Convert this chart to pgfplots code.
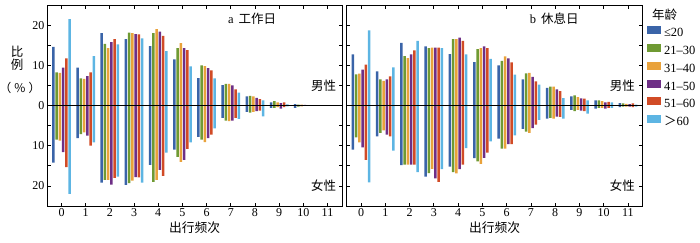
\documentclass[border=0pt]{standalone}
\usepackage{pgfplots}
\pgfplotsset{compat=1.18}
\usepackage{pgfplotstable}
\usepackage{fontspec}
\setmainfont{Liberation Serif}
\newfontfamily\cjk{Noto Sans CJK SC}

\definecolor{c1}{HTML}{3A64A8}
\definecolor{c2}{HTML}{6F9A33}
\definecolor{c3}{HTML}{E9A23B}
\definecolor{c4}{HTML}{6E2F86}
\definecolor{c5}{HTML}{D14B26}
\definecolor{c6}{HTML}{5DB5E3}

% panel a: work day (male m1..m6, female f1..f6 stored negative)
\pgfplotstableread{
x  m1    m2    m3    m4    m5    m6    f1     f2     f3     f4     f5     f6
0  14.6  8.25  8.1   9.4   11.7  21.5  -14.2  -8.5   -8.75  -11.6  -15.3  -22.0
1  9.4   6.75  6.6   7.3   8.25  12.3  -8.1   -7.1   -6.7   -7.5   -10.0  -9.2
2  18.0  15.3  14.3  15.75 16.5  15.2  -19.2  -18.5  -18.5  -19.7  -18.0  -17.7
3  16.5  18.1  18.0  17.75 17.7  16.7  -19.75 -19.3  -18.7  -17.8  -17.9  -19.2
4  14.8  18.0  19.0  18.4  17.3  13.5  -14.75 -19.0  -18.5  -16.0  -17.5  -11.7
5  11.5  14.3  15.5  14.3  13.75 9.75  -11.0  -12.8  -14.0  -13.5  -10.8  -9.2
6  6.8   10.0  9.8   9.3   8.75  6.75  -7.8   -8.5   -9.1   -8.1   -7.25  -5.7
7  5.1   5.4   5.4   5.0   4.0   3.2   -3.1   -3.75  -3.9   -3.75  -3.1   -3.3
8  2.25  2.4   2.25  1.9   1.6   1.25  -1.6   -1.75  -1.6   -1.4   -1.25  -2.7
9  0.75  1.1   0.75  0.6   0.75  0.3   -0.6   -0.6   -0.4   -0.75  -0.4   -0.2
10 0.35  0.2   0.2   0.15  0.1   0.1   -0.6   -0.3   -0.2   -0.1   -0.1   -0.1
11 0     0     0     0     0     0     0      0      0      0      0      0
}\worktab

% panel b: rest day
\pgfplotstableread{
x  m1    m2    m3    m4    m5    m6    f1     f2     f3     f4     f5     f6
0  12.7  7.75  7.9   8.9   10.2  18.7  -11.0  -7.9   -9.2   -10.4  -13.5  -19.1
1  8.5   6.5   6.1   6.5   7.25  9.5   -7.7   -6.8   -6.2   -7.25  -7.7   -11.2
2  15.6  12.3  11.8  12.7  13.7  16.1  -14.8  -14.7  -14.7  -14.7  -14.7  -16.6
3  14.7  14.25 14.4  14.4  14.4  14.25 -17.7  -16.8  -15.75 -18.1  -19.0  -15.8
4  12.8  16.5  16.5  16.9  16.1  12.7  -15.2  -16.6  -16.9  -15.8  -14.7  -10.6
5  10.8  14.0  14.3  14.7  14.3  11.6  -13.1  -13.9  -14.5  -13.0  -11.7  -8.9
6  10.0  11.1  12.2  11.75 10.75 7.7   -8.25  -10.75 -10.75 -9.6   -9.6   -7.4
7  6.5   8.0   8.1   7.1   6.0   5.2   -5.8   -6.5   -6.8   -5.6   -4.75  -3.6
8  4.4   4.7   4.7   4.0   3.6   1.85  -3.25  -3.1   -3.25  -2.75  -2.85  -3.25
9  2.25  2.5   2.1   1.75  1.7   1.25  -1.1   -1.4   -1.1   -1.25  -1.4   -2.0
10 1.25  1.25  1.1   0.75  0.9   0.75  -0.8   -0.6   -0.6   -0.8   -0.6   -0.6
11 0.6   0.5   0.4   0.35  0.5   0.25  -0.4   -0.3   -0.25  -0.25  -0.4   -0.25
}\resttab

\pgfplotsset{
  panel/.style={
    scale only axis, width=295pt, height=201pt,
    xmin=-0.6, xmax=11.6, ymin=-25, ymax=25,
    xtick={0,...,11},
    ytick={-20,-10,0,10,20},
    minor ytick={-15,-5,5,15},
    tick align=inside,
    major tick length=3.5pt, minor tick length=3.5pt,
    axis line style={line width=1pt},
    every tick/.style={black, line width=0.8pt},
    /pgf/number format/assume math mode=true,
    tick label style={font=\fontsize{12}{13}\selectfont, black},
    xticklabel style={inner sep=2pt},
    yticklabel style={inner sep=2.5pt},
    xlabel={\cjk 出行频次},
    xlabel style={at={(axis description cs:0.5,0)}, anchor=center, yshift=-22pt, font=\fontsize{12.75}{13}\selectfont},
  },
  sb/.style={ybar, bar width=2.5pt, draw=none, fill=#1},
}

\begin{document}
\begin{tikzpicture}
\useasboundingbox (0,0) rectangle (700pt,242pt);

% ---------- panel a ----------
\begin{axis}[panel, at={(47pt,36pt)}, anchor=south west,
  yticklabels={20,10,0,10,20}]
\addplot[sb=c1, bar shift=-8.125pt] table[x=x,y=m1]{\worktab};
\addplot[sb=c2, bar shift=-4.875pt] table[x=x,y=m2]{\worktab};
\addplot[sb=c3, bar shift=-1.625pt] table[x=x,y=m3]{\worktab};
\addplot[sb=c4, bar shift=1.625pt]  table[x=x,y=m4]{\worktab};
\addplot[sb=c5, bar shift=4.875pt]  table[x=x,y=m5]{\worktab};
\addplot[sb=c6, bar shift=8.125pt]  table[x=x,y=m6]{\worktab};
\addplot[sb=c1, bar shift=-8.125pt] table[x=x,y=f1]{\worktab};
\addplot[sb=c2, bar shift=-4.875pt] table[x=x,y=f2]{\worktab};
\addplot[sb=c3, bar shift=-1.625pt] table[x=x,y=f3]{\worktab};
\addplot[sb=c4, bar shift=1.625pt]  table[x=x,y=f4]{\worktab};
\addplot[sb=c5, bar shift=4.875pt]  table[x=x,y=f5]{\worktab};
\addplot[sb=c6, bar shift=8.125pt]  table[x=x,y=f6]{\worktab};
\draw[line width=0.9pt] (axis cs:-0.6,0) -- (axis cs:11.6,0);
\node[anchor=base west, inner sep=0pt, font=\fontsize{12.5}{13}\selectfont] at (axis cs:6.88,20.4) {a\hspace{5pt}{\cjk 工作日}};
\node[anchor=east, inner sep=0pt, font=\fontsize{12.5}{13}\selectfont\cjk] at (axis cs:11.36,5) {男性};
\node[anchor=east, inner sep=0pt, font=\fontsize{12.5}{13}\selectfont\cjk] at (axis cs:11.36,-20) {女性};
\end{axis}

% ---------- panel b ----------
\begin{axis}[panel, at={(346.5pt,36pt)}, anchor=south west, width=296pt,
  yticklabels={},
  legend cell align=left,
  legend image code/.code={\fill[#1] (0pt,-0.5pt) rectangle (14pt,7.5pt);},
  legend style={at={(1.0152,0.8935)}, anchor=north west, draw=none, fill=none,
    inner sep=0pt, outer sep=0pt, row sep=5.2pt, column sep=3pt,
    font=\fontsize{12.5}{13}\selectfont,
    nodes={inner sep=0pt, text height=8pt, text depth=2pt}}]
\addplot[sb=c1, bar shift=-8.125pt] table[x=x,y=m1]{\resttab};
\addplot[sb=c2, bar shift=-4.875pt] table[x=x,y=m2]{\resttab};
\addplot[sb=c3, bar shift=-1.625pt] table[x=x,y=m3]{\resttab};
\addplot[sb=c4, bar shift=1.625pt]  table[x=x,y=m4]{\resttab};
\addplot[sb=c5, bar shift=4.875pt]  table[x=x,y=m5]{\resttab};
\addplot[sb=c6, bar shift=8.125pt]  table[x=x,y=m6]{\resttab};
\legend{≤20,21–30,31–40,41–50,51–60,{{\cjk ＞}60}}
\addplot[sb=c1, bar shift=-8.125pt, forget plot] table[x=x,y=f1]{\resttab};
\addplot[sb=c2, bar shift=-4.875pt, forget plot] table[x=x,y=f2]{\resttab};
\addplot[sb=c3, bar shift=-1.625pt, forget plot] table[x=x,y=f3]{\resttab};
\addplot[sb=c4, bar shift=1.625pt, forget plot]  table[x=x,y=f4]{\resttab};
\addplot[sb=c5, bar shift=4.875pt, forget plot]  table[x=x,y=f5]{\resttab};
\addplot[sb=c6, bar shift=8.125pt, forget plot]  table[x=x,y=f6]{\resttab};
\draw[line width=0.9pt] (axis cs:-0.6,0) -- (axis cs:11.6,0);
\node[anchor=base west, inner sep=0pt, font=\fontsize{12.5}{13}\selectfont] at (axis cs:6.95,20.4) {b\hspace{5pt}{\cjk 休息日}};
\node[anchor=east, inner sep=0pt, font=\fontsize{12.5}{13}\selectfont\cjk] at (axis cs:11.29,5) {男性};
\node[anchor=east, inner sep=0pt, font=\fontsize{12.5}{13}\selectfont\cjk] at (axis cs:11.29,-20) {女性};
\end{axis}

% legend title and y label
\node[anchor=west, inner sep=0pt, font=\fontsize{12.5}{13}\selectfont\cjk] at (652pt,227pt) {年龄};
\node[inner sep=0pt, font=\fontsize{12.5}{13}\selectfont\cjk] at (17pt,190pt) {比};
\node[inner sep=0pt, font=\fontsize{12.5}{13}\selectfont\cjk] at (17pt,177pt) {例};
\node[inner sep=0pt, font=\fontsize{12}{13}\selectfont\cjk] at (20pt,154pt) {（\hspace{3pt}\%\hspace{3pt}）};
\end{tikzpicture}
\end{document}
